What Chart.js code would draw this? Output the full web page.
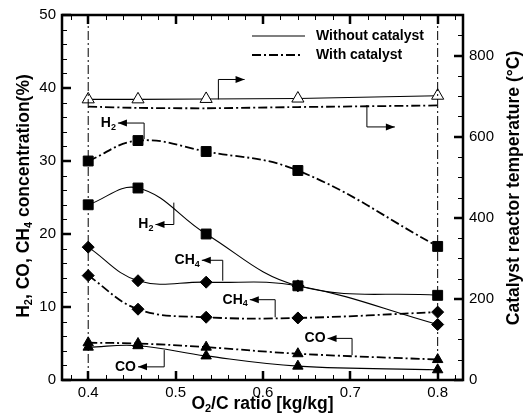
<!DOCTYPE html>
<html>
<head>
<meta charset="utf-8">
<script src="https://cdn.jsdelivr.net/npm/chart.js@4.4.0/dist/chart.umd.min.js"></script>
<style>
  html, body { margin: 0; padding: 0; background: #fff; }
  #wrap { width: 529px; height: 420px; }
</style>
</head>
<body>
<div id="wrap"><canvas id="chart"></canvas></div>
<script>
// O2/C ratio (x)
const o2cRatio = [0.4, 0.457, 0.535, 0.64, 0.8];

// concentrations (%) - left axis
const h2Without = [24.0, 26.3, 20.0, 12.9, 11.6];
const h2With = [30.0, 32.8, 31.3, 28.7, 18.3];
const ch4Without = [18.2, 13.6, 13.4, 12.9, 7.6];
const ch4With = [14.3, 9.7, 8.6, 8.5, 9.3];
const coWithout = [4.5, 4.7, 3.3, 1.9, 1.4];
const coWith = [5.1, 5.0, 4.5, 3.6, 2.8];

// catalyst reactor temperature (C) - right axis
const tempWithout = [692, 692, 693, 694, 701];
const tempWith = [674, 671, 670, 673, 677];

// tick labels
const xTicks = [0.4, 0.5, 0.6, 0.7, 0.8];
const yTicks = [0, 10, 20, 30, 40, 50];
const tempTicks = [0, 200, 400, 600, 800];

// callout arrows: [x, yStart, yBend, xEnd, axis, label]
const callouts = [
    [0.549, 692, 741, 0.579, 'yT', null],
    [0.719, 678, 624, 0.751, 'yT', null],
    [0.464, 33.0, 35.2, 0.434, 'y', [['H', 0], ['2', 1]]],
    [0.498, 24.3, 21.3, 0.477, 'y', [['H', 0], ['2', 1]]],
    [0.554, 13.6, 16.4, 0.530, 'y', [['CH', 0], ['4', 1]]],
    [0.614, 8.6, 11.0, 0.585, 'y', [['CH', 0], ['4', 1]]],
    [0.487, 4.1, 1.8, 0.457, 'y', [['CO', 0]]],
    [0.702, 3.4, 5.7, 0.674, 'y', [['CO', 0]]]
];

const DASHDOT = [9, 3, 2, 3];
const FONT = '"Liberation Sans", Arial, sans-serif';

function pts(ys) {
    return o2cRatio.map((x, i) => ({ x: x, y: ys[i] }));
}

function series(ys, style, dashed, axis) {
    return {
        data: pts(ys),
        yAxisID: axis || 'y',
        borderColor: '#000',
        backgroundColor: '#000',
        borderWidth: dashed ? 1.8 : 1.1,
        borderDash: dashed ? DASHDOT : [],
        tension: 0.4,
        pointStyle: style,
        pointRadius: style === 'rect' ? 7 : 6,
        pointBorderWidth: 1,
        pointBackgroundColor: '#000',
        pointBorderColor: '#000'
    };
}

// text with subscripts
function drawRich(ctx, parts, x, y, size, align) {
    const small = Math.round(size * 0.65);
    let w = 0;
    parts.forEach(p => {
        ctx.font = 'bold ' + (p[1] ? small : size) + 'px ' + FONT;
        w += ctx.measureText(p[0]).width;
    });
    let cx = align === 'right' ? x - w : (align === 'left' ? x : x - w / 2);
    ctx.textAlign = 'left';
    ctx.textBaseline = 'middle';
    parts.forEach(p => {
        ctx.font = 'bold ' + (p[1] ? small : size) + 'px ' + FONT;
        ctx.fillText(p[0], cx, y + (p[1] ? size * 0.3 : 0));
        cx += ctx.measureText(p[0]).width;
    });
}

function arrowHead(ctx, x, y, dir) {
    ctx.beginPath();
    ctx.moveTo(x, y);
    ctx.lineTo(x - dir * 9, y - 3.5);
    ctx.lineTo(x - dir * 9, y + 3.5);
    ctx.closePath();
    ctx.fill();
}

const framePlugin = {
    id: 'frame',
    afterDatasetsDraw(chart) {
        const ctx = chart.ctx;
        const a = chart.chartArea;
        const sx = chart.scales.x, sy = chart.scales.y, st = chart.scales.yT;
        ctx.save();
        ctx.strokeStyle = '#000';
        ctx.fillStyle = '#000';
        ctx.setLineDash([]);

        // ticks (inward)
        ctx.lineWidth = 1;
        ctx.beginPath();
        for (let v = 0.38; v <= 0.8201; v += 0.02) {
            const px = Math.round(sx.getPixelForValue(v)) + 0.5;
            const major = Math.abs(v * 10 - Math.round(v * 10)) < 1e-6;
            const len = major ? 9 : 5;
            ctx.moveTo(px, a.bottom); ctx.lineTo(px, a.bottom - len);
            ctx.moveTo(px, a.top); ctx.lineTo(px, a.top + len);
        }
        for (let v = 2; v < 50; v += 2) {
            const py = Math.round(sy.getPixelForValue(v)) + 0.5;
            const len = v % 10 === 0 ? 9 : 5;
            ctx.moveTo(a.left, py); ctx.lineTo(a.left + len, py);
        }
        for (let v = 50; v < 900; v += 50) {
            const py = Math.round(st.getPixelForValue(v)) + 0.5;
            const len = v % 200 === 0 ? 9 : 5;
            ctx.moveTo(a.right, py); ctx.lineTo(a.right - len, py);
        }
        ctx.stroke();
        ctx.lineWidth = 2.5;
        ctx.beginPath();
        xTicks.forEach(v => {
            const px = Math.round(sx.getPixelForValue(v));
            ctx.moveTo(px, a.bottom); ctx.lineTo(px, a.bottom - 9);
            ctx.moveTo(px, a.top); ctx.lineTo(px, a.top + 9);
        });
        yTicks.forEach(v => {
            const py = Math.round(sy.getPixelForValue(v));
            ctx.moveTo(a.left, py); ctx.lineTo(a.left + 9, py);
        });
        tempTicks.forEach(v => {
            const py = Math.round(st.getPixelForValue(v));
            ctx.moveTo(a.right, py); ctx.lineTo(a.right - 9, py);
        });
        ctx.stroke();

        // frame
        ctx.lineWidth = 2.5;
        ctx.strokeRect(a.left, a.top, a.right - a.left, a.bottom - a.top);

        // callouts
        ctx.lineWidth = 1;
        callouts.forEach(c => {
            const sc = chart.scales[c[4]];
            const x0 = sx.getPixelForValue(c[0]);
            const y0 = sc.getPixelForValue(c[1]);
            const y1 = sc.getPixelForValue(c[2]);
            const x1 = sx.getPixelForValue(c[3]);
            ctx.beginPath();
            ctx.moveTo(x0, y0); ctx.lineTo(x0, y1); ctx.lineTo(x1, y1);
            ctx.stroke();
            const dir = x1 > x0 ? 1 : -1;
            arrowHead(ctx, x1, y1, dir);
            if (c[5]) drawRich(ctx, c[5], x1 - 2, y1, 14, 'right');
        });

        // legend
        const lx0 = a.right - 211, lx1 = a.right - 158;
        const ly = [a.top + 21, a.top + 40];
        ctx.lineWidth = 1.1;
        ctx.beginPath(); ctx.moveTo(lx0, ly[0]); ctx.lineTo(lx1, ly[0]); ctx.stroke();
        ctx.lineWidth = 1.8;
        ctx.setLineDash(DASHDOT);
        ctx.beginPath(); ctx.moveTo(lx0, ly[1]); ctx.lineTo(lx1 - 3, ly[1]); ctx.stroke();
        ctx.setLineDash([]);
        drawRich(ctx, [['Without catalyst', 0]], lx1 + 11, ly[0], 14, 'left');
        drawRich(ctx, [['With catalyst', 0]], lx1 + 11, ly[1], 14, 'left');

        // axis titles
        drawRich(ctx, [['O', 0], ['2', 1], ['/C ratio [kg/kg]', 0]], (a.left + a.right) / 2, 404, 17.5, 'center');
        ctx.save();
        ctx.translate(24, 196);
        ctx.rotate(-Math.PI / 2);
        drawRich(ctx, [['H', 0], ['2', 1], [', CO, CH', 0], ['4', 1], [' concentration(%)', 0]], 0, 0, 17.5, 'center');
        ctx.restore();
        ctx.save();
        ctx.translate(514, 188);
        ctx.rotate(-Math.PI / 2);
        drawRich(ctx, [['Catalyst reactor temperature (\u00B0C)', 0]], 0, 0, 17.5, 'center');
        ctx.restore();
        ctx.restore();
    }
};

function vline(xv) {
    return {
        data: [{ x: xv, y: 0 }, { x: xv, y: 50 }],
        yAxisID: 'y',
        borderColor: '#000',
        borderWidth: 1,
        borderDash: DASHDOT,
        pointRadius: 0
    };
}

const tempWithDs = series(tempWith, 'circle', true, 'yT');
tempWithDs.pointRadius = 0;
tempWithDs.tension = 0.2;
const tempWithoutDs = series(tempWithout, 'triangle', false, 'yT');
tempWithoutDs.tension = 0;
tempWithoutDs.pointBackgroundColor = '#fff';
tempWithoutDs.pointRadius = 7;

new Chart(document.getElementById('chart'), {
    type: 'line',
    data: {
        datasets: [
            vline(0.4),
            vline(0.8),
            tempWithoutDs,
            tempWithDs,
            series(h2Without, 'rect', false),
            series(h2With, 'rect', true),
            series(ch4Without, 'rectRot', false),
            series(ch4With, 'rectRot', true),
            series(coWithout, 'triangle', false),
            series(coWith, 'triangle', true)
        ]
    },
    options: {
        responsive: true,
        maintainAspectRatio: false,
        animation: false,
        layout: { padding: { top: 12, left: 0, right: 0, bottom: 0 } },
        plugins: {
            legend: { display: false },
            tooltip: { enabled: false }
        },
        scales: {
            x: {
                type: 'linear',
                min: 0.37,
                max: 0.829,
                grid: { display: false, drawTicks: false },
                border: { display: false },
                afterBuildTicks: s => { s.ticks = xTicks.map(v => ({ value: v })); },
                afterFit: s => { s.height = 40; },
                ticks: {
                    padding: 4,
                    color: '#000',
                    font: { family: FONT, size: 15 },
                    callback: v => v.toFixed(1)
                }
            },
            y: {
                position: 'left',
                min: 0,
                max: 50,
                grid: { display: false, drawTicks: false },
                border: { display: false },
                afterBuildTicks: s => { s.ticks = yTicks.map(v => ({ value: v })); },
                afterFit: s => { s.width = 62; },
                ticks: { padding: 6, color: '#000', font: { family: FONT, size: 15 } }
            },
            yT: {
                position: 'right',
                min: 0,
                max: 900,
                grid: { display: false, drawTicks: false },
                border: { display: false },
                afterBuildTicks: s => { s.ticks = tempTicks.map(v => ({ value: v })); },
                afterFit: s => { s.width = 66; },
                ticks: { padding: 6, color: '#000', font: { family: FONT, size: 15 } }
            }
        }
    },
    plugins: [framePlugin]
});
</script>
</body>
</html>
